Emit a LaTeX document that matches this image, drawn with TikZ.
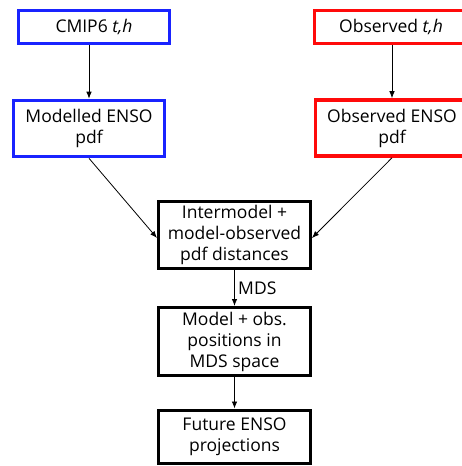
\documentclass[tikz,border=0pt]{standalone}
\usepackage{fontspec}
\setmainfont{Open Sans}
\usepackage{tikz}
\usetikzlibrary{arrows.meta}

\definecolor{modelblue}{RGB}{25,35,255}
\definecolor{obsred}{RGB}{255,10,10}

\tikzset{
  box/.style={draw, align=center, inner sep=1pt,
              font=\fontsize{17.5}{21}\selectfont},
  modelbox/.style={box, draw=modelblue, line width=3.6pt},
  obsbox/.style={box, draw=obsred, line width=3.6pt},
  chainbox/.style={box, draw=black, line width=3pt,
                   minimum width=152pt},
  arr/.style={-{Latex[length=7pt,width=5.5pt]}, line width=0.8pt}
}

\begin{document}
\begin{tikzpicture}[x=1pt,y=-1pt]
  \useasboundingbox (0,0) rectangle (462,466);

  % model side on the left
  \node[modelbox, minimum width=151pt, minimum height=33pt] (cmip) at (94,27)
       {CMIP6 \textit{t,h}};
  \node[modelbox, minimum width=151pt, minimum height=56pt] (modelpdf) at (89,128.5)
       {Modelled ENSO\\pdf};

  % observations on the right (runs off the page)
  \node[obsbox, minimum width=153pt, minimum height=33pt] (obsth) at (391,27)
       {Observed \textit{t,h}};
  \node[obsbox, minimum width=153pt, minimum height=56pt] (obspdf) at (392,128)
       {Observed ENSO\\pdf};

  % the chain in the middle
  \node[chainbox, minimum height=67pt] (dist) at (234.5,235)
       {Intermodel +\\model-observed\\pdf distances};
  \node[chainbox, minimum height=68pt] (mds) at (234.5,341.5)
       {Model + obs.\\positions in\\MDS space};
  \node[chainbox, minimum height=53pt] (future) at (234.5,436.5)
       {Future ENSO\\projections};

  % inputs
  \draw[arr] (modelpdf.north |- cmip.south) -- (modelpdf.north);
  \draw[arr] (obspdf.north |- obsth.south) -- (obspdf.north);
  \draw[arr] (modelpdf.south) -- ([yshift=-3]dist.west);
  \draw[arr] (obspdf.south) -- ([yshift=-3]dist.east);

  % down the chain
  \draw[arr] (dist.south) -- (mds.north)
             node[right,midway,font=\fontsize{17.5}{21}\selectfont] {MDS};
  \foreach \from/\to in {mds/future}
    \draw[arr] (\from.south) -- (\to.north);

\end{tikzpicture}
\end{document}
